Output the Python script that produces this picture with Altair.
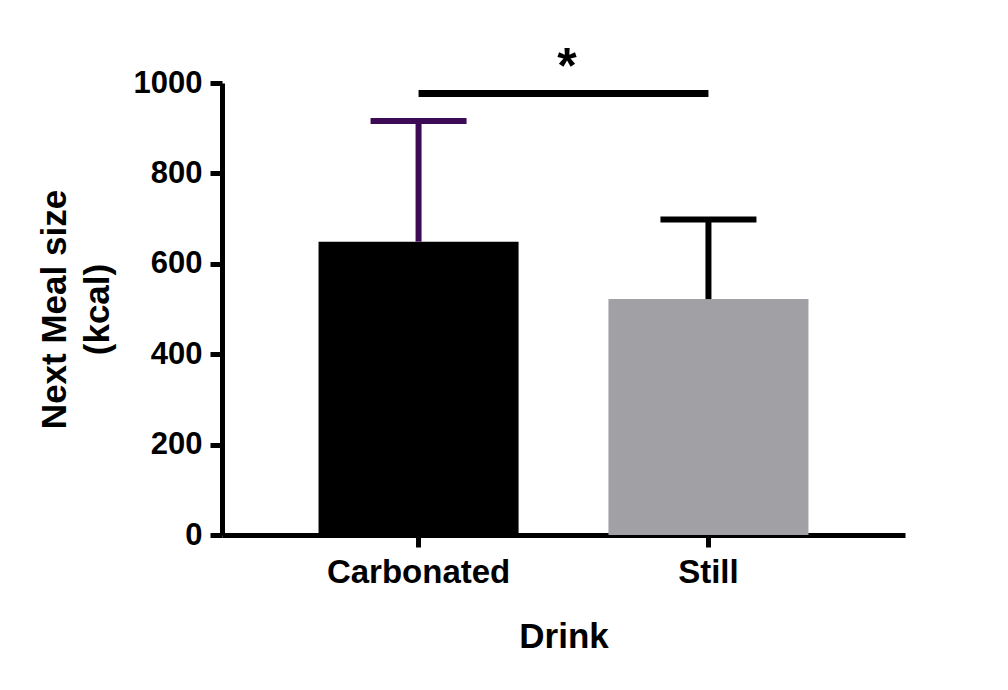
import altair as alt
import pandas as pd

# Data
drinks = ["Carbonated", "Still"]
means = [649, 522]
sds = [267, 176]
bar_colors = ["#000000", "#a1a0a5"]
err_colors = ["#3d0a55", "#000000"]
y_ticks = [0, 200, 400, 600, 800, 1000]
sig_from = ["Carbonated"]
sig_to = ["Still"]
sig_level = [977]
star_level = [1001]
star_text = ["*"]

FONT = "Liberation Sans"

df = pd.DataFrame({
    "Drink": drinks,
    "mean": means,
    "sd": sds,
    "barColor": bar_colors,
    "errColor": err_colors,
})
df["upper"] = df["mean"] + df["sd"]

sig = pd.DataFrame({"a": sig_from, "b": sig_to, "y": sig_level,
                    "ys": star_level, "t": star_text})

xscale = alt.Scale(domain=drinks, paddingInner=0.31, paddingOuter=0.333)
yscale = alt.Scale(domain=[0, 1000], nice=False)

x_axis = alt.Axis(
    labelAngle=0, labelFont=FONT, labelFontSize=33, labelFontWeight="bold",
    labelColor="black", labelPadding=9, labelLimit=0,
    domainColor="black", domainWidth=5, tickColor="black", tickWidth=5,
    tickSize=12, titleFont=FONT, titleFontSize=35, titleFontWeight="bold",
    titleColor="black", titleBaseline="alphabetic", titleY=112, grid=False,
)
y_axis = alt.Axis(
    values=y_ticks, format="d", labelFont=FONT, labelFontSize=31,
    labelFontWeight="bold", labelColor="black", labelPadding=8, labelLimit=0,
    domainColor="black", domainWidth=5, tickColor="black", tickWidth=5,
    tickSize=12, titleFont=FONT, titleFontSize=35, titleFontWeight="bold",
    titleColor="black", titleLineHeight=43, titleBaseline="middle",
    titleAngle=-90, titleAlign="center", titleX=-168, grid=False,
)

base = alt.Chart(df)

bars = base.mark_bar(opacity=1).encode(
    x=alt.X("Drink:N", scale=xscale, axis=x_axis, title="Drink"),
    y=alt.Y("mean:Q", scale=yscale, axis=y_axis,
            title=["Next Meal size", "(kcal)"]),
    color=alt.Color("barColor:N", scale=None),
)

err = base.mark_rule(strokeWidth=6, opacity=1).encode(
    x=alt.X("Drink:N", scale=xscale),
    y=alt.Y("mean:Q", scale=yscale),
    y2="upper:Q",
    color=alt.Color("errColor:N", scale=None),
)

caps = base.mark_tick(thickness=6, size=96, opacity=1).encode(
    x=alt.X("Drink:N", scale=xscale),
    y=alt.Y("upper:Q", scale=yscale),
    color=alt.Color("errColor:N", scale=None),
)

sig_line = alt.Chart(sig).mark_rule(strokeWidth=7, color="black").encode(
    x=alt.X("a:N", scale=xscale),
    x2="b:N",
    y=alt.Y("y:Q", scale=yscale),
)

star = alt.Chart(sig).mark_text(
    font=FONT, fontSize=50, fontWeight="bold", color="black",
    align="center", baseline="alphabetic", dx=148.5,
).encode(
    x=alt.X("a:N", scale=xscale),
    y=alt.Y("ys:Q", scale=yscale),
    text="t:N",
)

chart = alt.layer(bars, err, caps, sig_line, star).properties(
    width=683, height=452,
    background="white",
    autosize=alt.AutoSizeParams(type="none"),
    padding={"left": 214, "top": 75, "right": 95, "bottom": 147},
).configure_view(strokeWidth=0, stroke=None)

chart.save("out.html", embed_options={"renderer": "svg", "actions": False})
